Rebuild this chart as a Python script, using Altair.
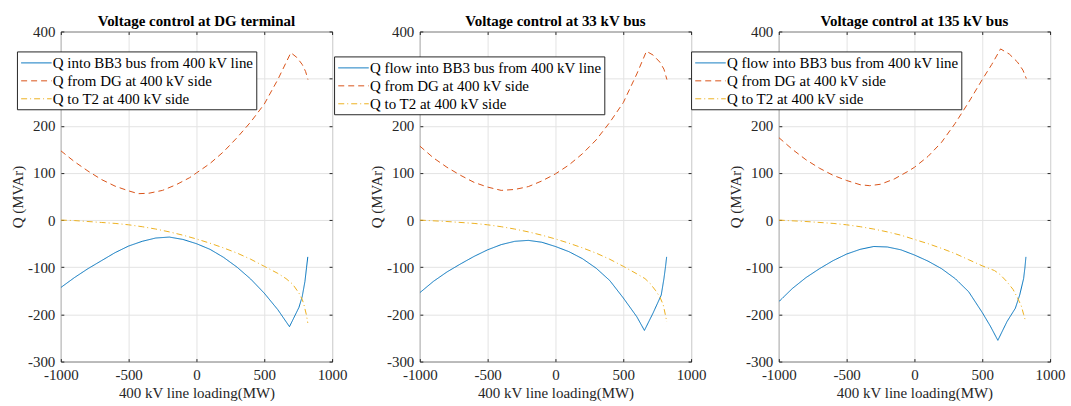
import altair as alt
import pandas as pd

# ---------------- data ----------------
titles = ["Voltage control at DG terminal", "Voltage control at 33 kV bus", "Voltage control at 135 kV bus"]
names_p1 = ["Q into BB3 bus from 400 kV line", "Q from DG at 400 kV side", "Q to T2 at 400 kV side"]
names_p23 = ["Q flow into BB3 bus from 400 kV line", "Q from DG at 400 kV side", "Q to T2 at 400 kV side"]

x_ticks = [-1000, -500, 0, 500, 1000]
y_ticks = [-300, -200, -100, 0, 100, 200, 300, 400]

# Panel 1
p1_blue_x = [-1000, -900, -800, -700, -600, -500, -400, -300, -200, -100, 0, 100, 200, 300, 400, 500, 600, 686, 756, 780, 800, 812, 821]
p1_blue_y = [-143, -122, -103, -86, -69, -55, -45, -38, -36, -41, -50, -62, -79, -100, -125, -155, -190, -226, -185, -162, -130, -100, -78]
p1_red_x = [-1000, -900, -800, -700, -600, -500, -430, -350, -250, -150, -50, 0, 100, 200, 300, 400, 500, 600, 696, 740, 780, 805, 822]
p1_red_y = [147, 124, 104, 86, 72, 62, 56, 57, 63, 75, 90, 100, 120, 145, 175, 208, 246, 298, 355, 345, 330, 315, 298]
p1_yel_x = [-1000, -900, -800, -700, -600, -500, -400, -300, -200, -100, 0, 100, 200, 300, 400, 500, 600, 660, 710, 756, 780, 793, 810, 821]
p1_yel_y = [0, -1, -3, -5, -7, -10, -14, -19, -25, -32, -40, -49, -59, -70, -83, -98, -113, -124, -136, -155, -168, -180, -200, -218]

# Panel 2
p2_blue_x = [-1000, -900, -800, -700, -600, -500, -400, -300, -200, -100, 0, 100, 200, 300, 400, 500, 600, 656, 720, 780, 800, 812, 820]
p2_blue_y = [-154, -130, -110, -93, -77, -63, -52, -45, -43, -47, -56, -67, -82, -102, -128, -165, -205, -234, -197, -159, -124, -98, -78]
p2_red_x = [-1000, -900, -800, -700, -600, -500, -400, -300, -200, -100, 0, 100, 200, 300, 400, 500, 600, 671, 720, 770, 800, 822]
p2_red_y = [157, 132, 112, 95, 80, 70, 63, 65, 71, 83, 98, 117, 141, 170, 207, 249, 310, 358, 350, 335, 320, 298]
p2_yel_x = [-1000, -800, -600, -500, -400, -300, -200, -100, 0, 100, 200, 300, 400, 500, 600, 660, 700, 740, 770, 795, 810, 821]
p2_yel_y = [0, -3, -7, -10, -14, -19, -25, -32, -40, -49, -59, -70, -83, -98, -114, -124, -135, -150, -163, -180, -200, -216]

# Panel 3
p3_blue_x = [-1000, -900, -800, -700, -600, -500, -400, -300, -200, -100, 0, 100, 200, 300, 400, 500, 560, 615, 683, 744, 776, 805, 815, 822]
p3_blue_y = [-173, -145, -122, -103, -86, -72, -62, -56, -57, -63, -74, -87, -103, -124, -152, -196, -225, -255, -215, -187, -159, -124, -100, -78]
p3_red_x = [-1000, -900, -800, -700, -600, -500, -400, -330, -250, -150, -50, 0, 100, 200, 300, 400, 500, 570, 635, 700, 760, 800, 825]
p3_red_y = [175, 150, 128, 110, 95, 84, 75, 73, 76, 87, 103, 112, 135, 165, 205, 250, 298, 330, 363, 352, 335, 318, 300]
p3_yel_x = [-1000, -800, -600, -500, -400, -300, -200, -100, 0, 100, 200, 300, 400, 500, 590, 630, 680, 727, 760, 788, 805, 821]
p3_yel_y = [0, -3, -7, -10, -14, -19, -25, -32, -41, -50, -60, -71, -84, -97, -107, -115, -130, -147, -165, -182, -200, -216]

panels = [
    (titles[0], names_p1, [(p1_blue_x, p1_blue_y), (p1_red_x, p1_red_y), (p1_yel_x, p1_yel_y)], -44, 20),
    (titles[1], names_p23, [(p2_blue_x, p2_blue_y), (p2_red_x, p2_red_y), (p2_yel_x, p2_yel_y)], -86, 25),
    (titles[2], names_p23, [(p3_blue_x, p3_blue_y), (p3_red_x, p3_red_y), (p3_yel_x, p3_yel_y)], -88, 20),
]

# ---------------- styles ----------------
FONT = "Liberation Serif"
FS = 15
colors = ["#0072BD", "#D95319", "#EDB120"]
dashes = [[1, 0], [6, 4], [6, 3, 1, 3]]
PW, PH = 272, 331
TK = 3  # inward tick length
LABEL_EXPR = "'' + datum.value"


def make_panel(title, names, series, lx, ly):
    rows = []
    for name, (xs, ys) in zip(names, series):
        for i, (xv, yv) in enumerate(zip(xs, ys)):
            rows.append({"x": xv, "y": yv, "series": name, "i": i})
    df = pd.DataFrame(rows)
    legend = alt.Legend(
        orient="none", legendX=lx, legendY=ly, title=None,
        strokeColor="#262626", fillColor="white", padding=2,
        labelFont=FONT, labelFontSize=FS, labelColor="black", labelLimit=400,
        symbolOffset=8, labelOffset=7,
        symbolType="M-1.7,0H1.7", symbolSize=324, symbolStrokeWidth=1,
        rowPadding=0,
    )
    base = alt.Chart(df)
    lines = base.mark_line(strokeWidth=1, clip=True).encode(
        x=alt.X("x:Q", scale=alt.Scale(domain=[-1000, 1000], nice=False),
                axis=alt.Axis(values=x_ticks, labelExpr=LABEL_EXPR, grid=True, ticks=True, tickSize=TK,
                              offset=-TK, domain=False,
                              labelFlush=False, labelOverlap=False, labelPadding=6,
                              title="400 kV line loading(MW)", titlePadding=3)),
        y=alt.Y("y:Q", scale=alt.Scale(domain=[-300, 400], nice=False),
                axis=alt.Axis(values=y_ticks, labelExpr=LABEL_EXPR, grid=True, ticks=True, tickSize=TK,
                              offset=-TK, domain=False,
                              labelFlush=False, labelOverlap=False, labelPadding=6,
                              title="Q (MVAr)", minExtent=30, maxExtent=30, titlePadding=8)),
        color=alt.Color("series:N", scale=alt.Scale(domain=names, range=colors), legend=legend),
        strokeDash=alt.StrokeDash("series:N", scale=alt.Scale(domain=names, range=dashes), legend=legend),
        order="i:Q",
    )
    mirror = base.mark_line(opacity=0).encode(
        x=alt.X("x:Q", axis=alt.Axis(orient="top", values=x_ticks, labels=False, grid=False,
                                     ticks=True, tickSize=TK, offset=-TK, domain=False, title=None,
                                     minExtent=0, maxExtent=0)),
        y=alt.Y("y:Q", axis=alt.Axis(orient="right", values=y_ticks, labels=False, grid=False,
                                     ticks=True, tickSize=TK, offset=-TK, domain=False, title=None,
                                     minExtent=0, maxExtent=0)),
        detail="series:N",
    )
    return alt.layer(lines, mirror).resolve_axis(x="independent", y="independent").properties(
        width=PW, height=PH,
        title=alt.TitleParams(title, font=FONT, fontSize=FS, fontWeight="bold", color="black", offset=-5),
    )


chart = alt.hconcat(*[make_panel(*p) for p in panels], spacing=88, bounds="flush").resolve_scale(
    color="independent", strokeDash="independent"
).properties(
    padding={"left": 10, "top": 13, "right": 5, "bottom": 5},
    background="white",
).configure_view(
    stroke="#262626", strokeWidth=1
).configure_axis(
    labelFont=FONT, labelFontSize=FS, labelColor="#262626",
    titleFont=FONT, titleFontSize=FS, titleFontWeight="normal", titleColor="#262626",
    gridColor="#e3e3e3", gridWidth=1, tickColor="#262626", tickWidth=1,
)

chart.save("out.html", embed_options={"renderer": "svg", "actions": False})
